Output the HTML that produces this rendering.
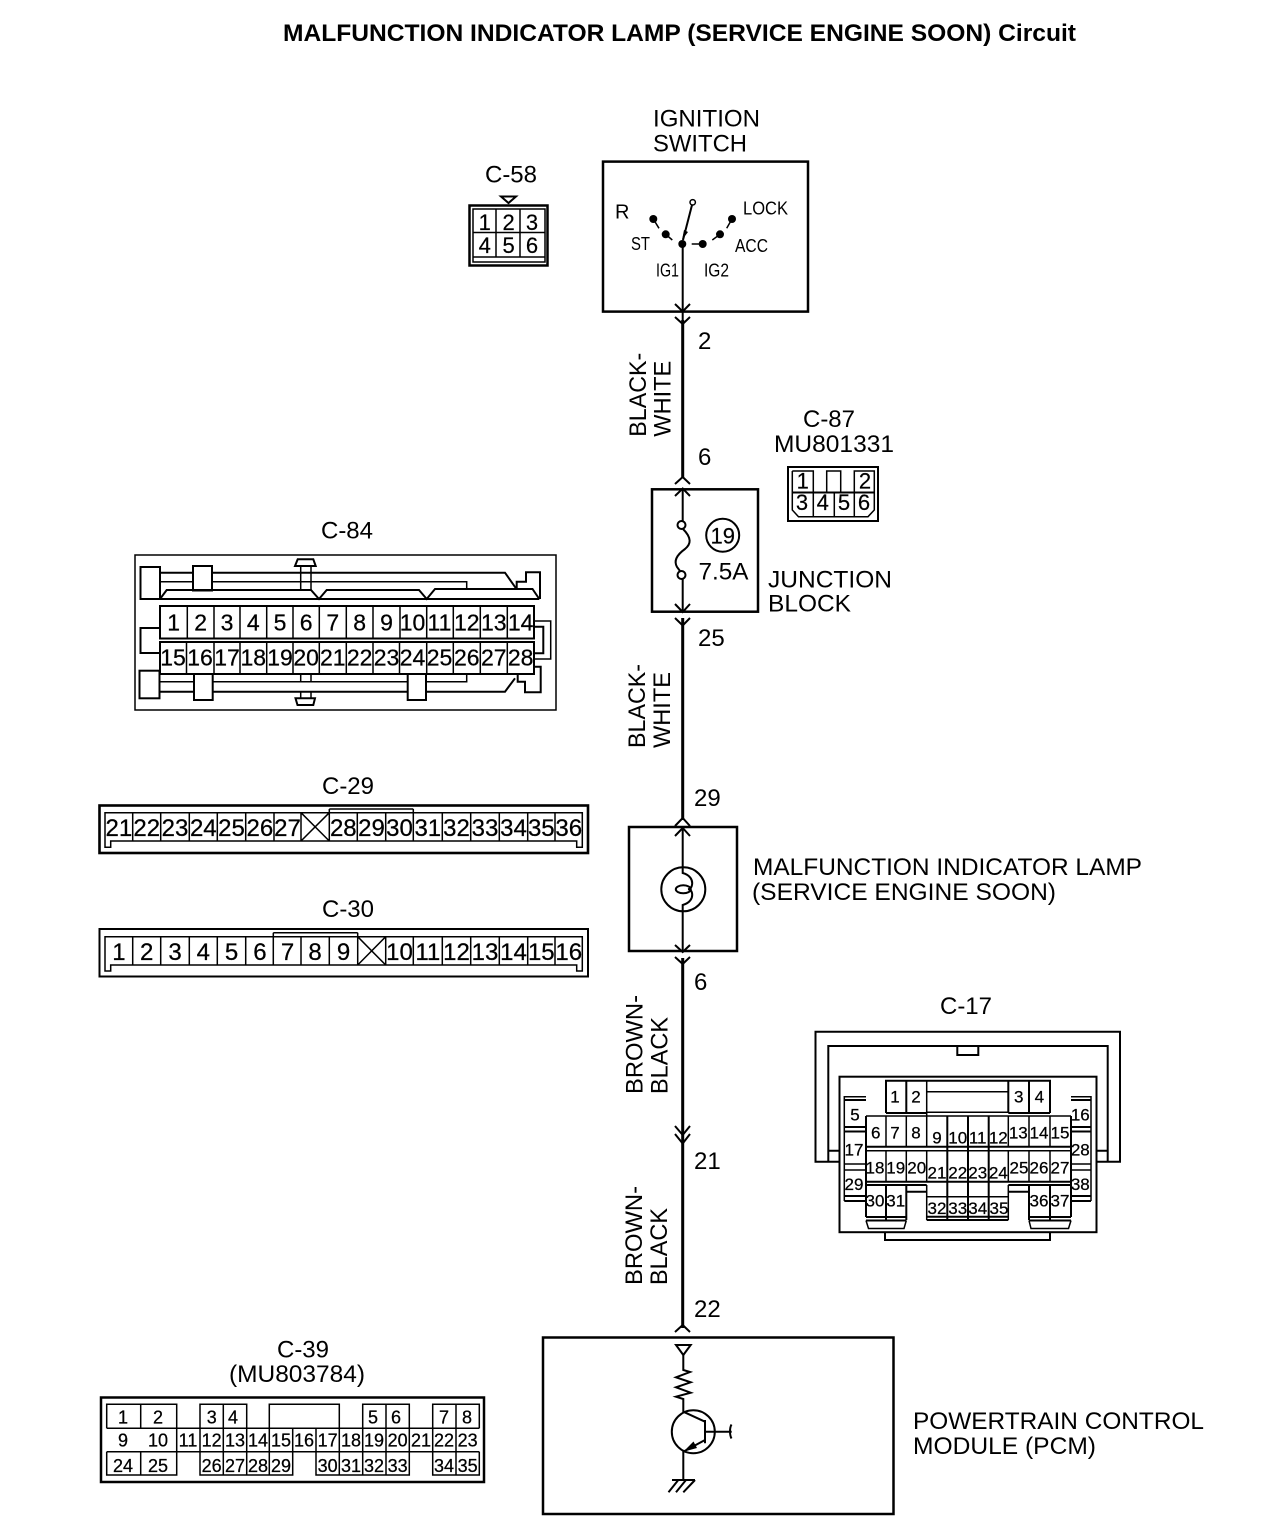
<!DOCTYPE html>
<html><head><meta charset="utf-8"><style>
html,body{margin:0;padding:0;background:#fff}
svg{display:block}
text{font-family:"Liberation Sans",sans-serif;fill:#000}
.t{font-size:24px}.m{text-anchor:middle}
.c29{font-size:24px;text-anchor:middle;stroke:#000;stroke-width:.25}
.c84{font-size:23px;text-anchor:middle;stroke:#000;stroke-width:.25}
.c58{font-size:22px;text-anchor:middle;stroke:#000;stroke-width:.2}
.c17{font-size:17px;text-anchor:middle;stroke:#000;stroke-width:.25}
.c39{font-size:18px;text-anchor:middle;stroke:#000;stroke-width:.25}
.s{font-size:18px}
.l{fill:none;stroke:#000;stroke-width:1.5}
.b{fill:none;stroke:#000;stroke-width:2.5}
.w{fill:none;stroke:#000;stroke-width:2}
.h{fill:none;stroke:#000;stroke-width:3}
</style></head><body>
<svg xmlns="http://www.w3.org/2000/svg" width="1264" height="1534" viewBox="0 0 1264 1534">
<rect width="1264" height="1534" fill="#fff"/>
<text x="283" y="41" font-size="24" font-weight="bold" textLength="793" lengthAdjust="spacingAndGlyphs">MALFUNCTION INDICATOR LAMP (SERVICE ENGINE SOON) Circuit</text>

<!-- main wire -->
<path class="w" d="M682.7 244V320M682.7 489V525M682.7 578V612M682.7 827V867M682.7 911V952"/>
<path class="h" d="M682.7 320V478M682.7 618V820M682.7 958V1328"/>
<path class="w" d="M675 304L682.7 311.5L690 304M675 317L682.7 324L690 317M675 484L682.7 477L690 484M675 496L682.7 488.5L690 496M675 604L682.7 612L690 604M675 618L682.7 625.5L690 618M675 826L682.7 818L690 826M675 836L682.7 828L690 836M675 945L682.7 952L690 945M675 957L682.7 964L690 957M675 1126L682.7 1135L690 1126M675 1134L682.7 1143.5L690 1134M675 1332L682.7 1325L690 1332"/>

<!-- ignition switch -->
<text x="653" y="126.7" class="t" textLength="107" lengthAdjust="spacingAndGlyphs">IGNITION</text>
<text x="653" y="151.7" class="t" textLength="94" lengthAdjust="spacingAndGlyphs">SWITCH</text>
<rect x="603" y="161.6" width="205" height="150" class="b"/>
<circle cx="653.3" cy="219" r="4"/><circle cx="665.7" cy="234.3" r="4"/><circle cx="682.3" cy="244" r="4"/><circle cx="702.7" cy="244" r="4"/><circle cx="720" cy="234.3" r="4"/><circle cx="732" cy="219" r="4"/>
<path class="l" d="M653.3 219L659 228.3M665.7 234.3L672.3 240M691.7 244H702.7M720 234.3L712.3 240M732 219L726.7 228.3"/>
<circle cx="692.7" cy="202.3" r="2.7" class="l" fill="#fff"/>
<path class="w" d="M692 205L683 240"/>
<path d="M682 240L684 230L688 232Z"/>
<text x="615" y="218.3" font-size="20">R</text>
<text x="743" y="214.5" class="s" textLength="45" lengthAdjust="spacingAndGlyphs">LOCK</text>
<text x="631" y="250" class="s" textLength="19" lengthAdjust="spacingAndGlyphs">ST</text>
<text x="735" y="252" class="s" textLength="33" lengthAdjust="spacingAndGlyphs">ACC</text>
<text x="656" y="276.5" class="s" textLength="23" lengthAdjust="spacingAndGlyphs">IG1</text>
<text x="704" y="276.5" class="s" textLength="25" lengthAdjust="spacingAndGlyphs">IG2</text>

<!-- wire labels -->
<text x="698" y="349" class="t">2</text>
<text x="698" y="465" class="t">6</text>
<text x="698" y="646" class="t">25</text>
<text x="694" y="806" class="t">29</text>
<text x="694" y="990" class="t">6</text>
<text x="694" y="1169" class="t">21</text>
<text x="694" y="1317" class="t">22</text>
<text transform="translate(646,436.7) rotate(-90)" class="t" textLength="84" lengthAdjust="spacingAndGlyphs">BLACK-</text>
<text transform="translate(670.7,436.7) rotate(-90)" class="t" textLength="76" lengthAdjust="spacingAndGlyphs">WHITE</text>
<text transform="translate(645,748) rotate(-90)" class="t" textLength="84" lengthAdjust="spacingAndGlyphs">BLACK-</text>
<text transform="translate(670,748) rotate(-90)" class="t" textLength="76" lengthAdjust="spacingAndGlyphs">WHITE</text>
<text transform="translate(642.3,1094) rotate(-90)" class="t" textLength="99" lengthAdjust="spacingAndGlyphs">BROWN-</text>
<text transform="translate(667.3,1094) rotate(-90)" class="t" textLength="77" lengthAdjust="spacingAndGlyphs">BLACK</text>
<text transform="translate(642,1285) rotate(-90)" class="t" textLength="99" lengthAdjust="spacingAndGlyphs">BROWN-</text>
<text transform="translate(667,1285) rotate(-90)" class="t" textLength="77" lengthAdjust="spacingAndGlyphs">BLACK</text>

<!-- C-58 -->
<text x="511" y="182.5" class="t m">C-58</text>
<path class="w" d="M501 196.5H516L508.5 203Z"/>
<rect x="469.5" y="205.5" width="78" height="60" class="b"/>
<rect x="473" y="209" width="72" height="53" class="l"/>
<path class="l" d="M473 232.5H545M473 257H545M496 209V257M520 209V257"/>
<text x="484.7" y="230" class="c58">1</text><text x="508.6" y="230" class="c58">2</text><text x="532" y="230" class="c58">3</text>
<text x="484.7" y="253" class="c58">4</text><text x="508.6" y="253" class="c58">5</text><text x="532" y="253" class="c58">6</text>

<!-- Junction block -->
<rect x="652" y="489.3" width="106" height="122.4" class="b"/>
<circle cx="681.5" cy="525" r="4" fill="#fff" stroke="#000" stroke-width="2"/>
<circle cx="681.5" cy="575" r="4" fill="#fff" stroke="#000" stroke-width="2"/>
<path class="w" d="M683 529C692 538 691 544 685 549C678 554 673 560 677 567L680 571"/>
<circle cx="722.7" cy="535.3" r="16.5" class="w"/>
<text x="722.7" y="543.5" class="c58">19</text>
<text x="698.5" y="579.3" class="t" textLength="50" lengthAdjust="spacingAndGlyphs">7.5A</text>
<text x="768" y="587.3" class="t" textLength="124" lengthAdjust="spacingAndGlyphs">JUNCTION</text>
<text x="768" y="611.7" class="t" textLength="83" lengthAdjust="spacingAndGlyphs">BLOCK</text>

<!-- C-87 -->
<text x="829" y="427" class="t m">C-87</text>
<text x="774" y="452" class="t" textLength="120" lengthAdjust="spacingAndGlyphs">MU801331</text>
<rect x="788" y="467" width="90" height="54" class="w"/>
<path class="l" d="M792.3 471H813.3V492.3M826.7 492.3V471H840.7V492.3M854.3 492.3V471H874.3V510L868 516.7H798.5L792.3 510V471M813.3 492.3V516.7M834.3 492.3V516.7M854.3 492.3V516.7"/>
<path class="w" d="M792.3 492.5H874.3"/>
<text x="802.7" y="488.3" class="c58">1</text><text x="865" y="488.3" class="c58">2</text>
<text x="802" y="510" class="c58">3</text><text x="822.7" y="510" class="c58">4</text><text x="844" y="510" class="c58">5</text><text x="864" y="510" class="c58">6</text>

<!-- C-84 -->
<text x="347" y="538.3" class="t m">C-84</text>
<rect x="135" y="555" width="421" height="155" class="l"/>
<rect x="140.5" y="567" width="19.5" height="32" class="w"/>
<rect x="193" y="566" width="19" height="24.5" class="w" fill="#fff"/>
<path class="w" d="M160 572.7H193M212 572.7H505L516.7 589.3M140.5 599H539.3"/>
<path class="l" d="M160 581.7H193M212 581.7H466.7V589"/>
<path class="w" d="M160 599L166.7 590H311L319 599L326.7 590H419L426.7 599L435 589H532.5L539.3 599"/>
<path class="w" d="M516.7 589.3V581.7H526V572.3H540V599"/>
<path class="w" d="M295 566L297.7 559.3H313.3L315.7 566Z"/>
<path class="l" d="M300.7 566V590M311 566V590"/>
<rect x="160" y="606" width="374" height="32.5" class="w"/>
<rect x="160" y="642" width="374" height="32" class="w"/>
<path class="l" d="M187.3 606V638M214 606V638M240 606V638M266.7 606V638M293 606V638M319.3 606V638M346.3 606V638M373 606V638M400 606V638M426.7 606V638M453.3 606V638M480.3 606V638M507.3 606V638"/>
<path class="l" d="M186.5 642V674M214 642V674M240 642V674M266.7 642V674M293 642V674M319.3 642V674M346.3 642V674M373 642V674M399.5 642V674M426.7 642V674M453.3 642V674M480.3 642V674M507.3 642V674"/>
<path class="w" d="M160 628H140.5V653H160"/>
<path class="l" d="M534 621H550.7V659H534"/>
<path class="w" d="M534 626.7H543.3V653.3H534"/>
<rect x="139.5" y="670.7" width="20" height="27.6" class="w" fill="#fff"/>
<rect x="194" y="674" width="18.7" height="26" class="w" fill="#fff"/>
<rect x="407.7" y="674" width="18.3" height="26" class="w" fill="#fff"/>
<path class="l" d="M159.5 681.7H194M212.7 681.7H407.7M426 681.7H466.7V674"/>
<path class="w" d="M159.5 691.7H194M212.7 691.7H407.7M426 691.7H505L515 678.3"/>
<path class="w" d="M517.7 674V681.7H525V692.3H540.7V666.7H534"/>
<path class="l" d="M300.7 674V681.7M311 674V681.7M300.7 691.7V698M311 691.7V698"/>
<path class="w" d="M295.5 698.3H315L313.3 705H297.5Z"/>
<text x="173.7" y="630.7" class="c84">1</text><text x="200.7" y="630.7" class="c84">2</text><text x="227" y="630.7" class="c84">3</text><text x="253.3" y="630.7" class="c84">4</text><text x="280" y="630.7" class="c84">5</text><text x="306.2" y="630.7" class="c84">6</text><text x="332.8" y="630.7" class="c84">7</text><text x="359.7" y="630.7" class="c84">8</text><text x="386.5" y="630.7" class="c84">9</text><text x="412.5" y="630.7" class="c84">10</text><text x="439.5" y="630.7" class="c84">11</text><text x="466.8" y="630.7" class="c84">12</text><text x="493.8" y="630.7" class="c84">13</text><text x="520.7" y="630.7" class="c84">14</text>
<text x="173" y="665.7" class="c84">15</text><text x="200" y="665.7" class="c84">16</text><text x="227" y="665.7" class="c84">17</text><text x="253.3" y="665.7" class="c84">18</text><text x="280" y="665.7" class="c84">19</text><text x="306.2" y="665.7" class="c84">20</text><text x="332.8" y="665.7" class="c84">21</text><text x="359.7" y="665.7" class="c84">22</text><text x="386.5" y="665.7" class="c84">23</text><text x="412.5" y="665.7" class="c84">24</text><text x="439.5" y="665.7" class="c84">25</text><text x="466.8" y="665.7" class="c84">26</text><text x="493.8" y="665.7" class="c84">27</text><text x="520.7" y="665.7" class="c84">28</text>

<!-- C-29 -->
<text x="348" y="794" class="t m">C-29</text>
<rect x="99.5" y="805.5" width="488.5" height="47.5" fill="none" stroke="#000" stroke-width="2.6"/>
<path class="l" d="M105 812.7H582.3V847.3H576.7V841H110.7V847.3H105Z"/>
<path class="l" d="M132.7 812.7V841M160.7 812.7V841M189.3 812.7V841M217.3 812.7V841M245.7 812.7V841M274 812.7V841M301 812.7V841M329.3 809V841M357.3 812.7V841M385.7 812.7V841M413.3 809V841M442.3 812.7V841M470.7 812.7V841M499.3 812.7V841M527.7 812.7V841M555 812.7V841M329.3 809H413.3M301 812.7L329.3 841M301 841L329.3 812.7"/>
<text x="118.9" y="836" class="c29">21</text><text x="146.7" y="836" class="c29">22</text><text x="175" y="836" class="c29">23</text><text x="203.3" y="836" class="c29">24</text><text x="231.5" y="836" class="c29">25</text><text x="259.9" y="836" class="c29">26</text><text x="287.5" y="836" class="c29">27</text><text x="343.3" y="836" class="c29">28</text><text x="371.5" y="836" class="c29">29</text><text x="399.5" y="836" class="c29">30</text><text x="427.8" y="836" class="c29">31</text><text x="456.5" y="836" class="c29">32</text><text x="485" y="836" class="c29">33</text><text x="513.5" y="836" class="c29">34</text><text x="541.3" y="836" class="c29">35</text><text x="568.7" y="836" class="c29">36</text>

<!-- C-30 -->
<text x="348" y="917" class="t m">C-30</text>
<rect x="99.5" y="929" width="488.5" height="47.5" class="w"/>
<path class="l" d="M105 936.7H582.3V971H576.7V965H110.7V971H105Z"/>
<path class="l" d="M132.7 936.7V965M160.7 936.7V965M189.3 936.7V965M217.3 936.7V965M245.7 936.7V965M273.3 932.7V965M301 936.7V965M329.3 936.7V965M357.7 932.7V965M385.7 936.7V965M413.3 936.7V965M442.3 936.7V965M470.7 936.7V965M499.3 936.7V965M527.7 936.7V965M555 936.7V965M273.3 932.7H357.7M357.7 936.7L385.7 965M357.7 965L385.7 936.7"/>
<text x="118.9" y="960" class="c29">1</text><text x="146.7" y="960" class="c29">2</text><text x="175" y="960" class="c29">3</text><text x="203.3" y="960" class="c29">4</text><text x="231.5" y="960" class="c29">5</text><text x="259.9" y="960" class="c29">6</text><text x="287.5" y="960" class="c29">7</text><text x="315" y="960" class="c29">8</text><text x="343.5" y="960" class="c29">9</text><text x="399.5" y="960" class="c29">10</text><text x="427.8" y="960" class="c29">11</text><text x="456.5" y="960" class="c29">12</text><text x="485" y="960" class="c29">13</text><text x="513.5" y="960" class="c29">14</text><text x="541.3" y="960" class="c29">15</text><text x="568.7" y="960" class="c29">16</text>

<!-- Lamp -->
<rect x="629" y="827" width="108" height="124" class="b"/>
<circle cx="683.3" cy="889.3" r="22" class="w"/>
<ellipse cx="683.3" cy="889.3" rx="7.5" ry="4" class="w"/>
<path class="w" d="M682.7 867V873C690 875 693 880 692 885C691.500 888 690 889 688 889.300M682.7 911V905C690 903 693 898 692 893C691.500 890.500 690 889.500 688 889.300"/>
<text x="753" y="875" class="t" textLength="389" lengthAdjust="spacingAndGlyphs">MALFUNCTION INDICATOR LAMP</text>
<text x="752" y="900" class="t" textLength="304" lengthAdjust="spacingAndGlyphs">(SERVICE ENGINE SOON)</text>

<!-- C-17 -->
<text x="966" y="1014" class="t m">C-17</text>
<path class="w" d="M839.3 1161.700H815.500V1031.700H1120V1161.700H1096.700M828.300 1161.700V1046H1107.700V1161.700M828.300 1150.700H839.300M1096.700 1150.700H1107.700M957.300 1046V1055H978.300V1046"/>
<rect x="839.500" y="1076.700" width="257" height="155.500" class="w" fill="#fff"/>
<path class="w" d="M885 1232.500V1240H1050V1232.500"/>
<path class="w" d="M886 1113V1080.700H1050V1113M906.300 1080.700V1113M1008.300 1080.700V1113M1029 1080.700V1113"/>
<path class="l" d="M926.700 1080.700V1116M926.700 1091.700H1008.300M926.700 1112.300H1008.300"/>
<path class="w" d="M886 1113H926.700M1008.300 1113H1050"/>
<path class="l" d="M866 1116H1071M886 1116V1146.700M906.300 1116V1146.700M926.700 1116V1146.700M1008.300 1116V1146.700M1029 1116V1146.700M1050 1116V1146.700"/>
<path class="w" d="M947.300 1116V1220M968 1116V1220M988.700 1116V1220"/>
<path class="w" d="M866 1146.700H1071M866 1181.700H1071M866 1185H926.700M1008.300 1185H1071M906.300 1191.700H926.700M1008.300 1191.700H1029"/>
<path class="l" d="M866 1150.700H1071M886 1150.700V1181.700M906.300 1150.700V1181.700M926.700 1150.700V1181.700M1008.300 1150.700V1181.700M1029 1150.700V1181.700M1050 1150.700V1181.700M926.700 1196.700H1008.300"/>
<path class="w" d="M866 1116V1217M886 1185V1220M906.300 1185V1220M1029 1185V1220M1050 1185V1220M1071 1116V1217"/>
<path class="l" d="M926.700 1185V1220M1008.300 1185V1220"/>
<path class="w" d="M926.700 1216.700H1008.300M926.700 1220H1008.300M866 1217H906.300M1029 1217H1071M866 1220.500H906.300M1029 1220.500H1071"/>
<path class="l" d="M866 1220.500L868.500 1228.500H904L906.300 1220.500M1029 1220.500L1031 1228.500H1068.500L1071 1220.500"/>
<path class="l" d="M844.300 1201V1096.700H866M1091 1201V1096.700H1071"/>
<path class="w" d="M844.300 1100H866M1071 1100H1091M844.300 1127H866M844.300 1131.500H866M1071 1127H1091M1071 1131.500H1091M844.300 1201H866M1071 1201H1091M844.300 1196H866M1071 1196H1091"/>
<path class="l" d="M844.300 1164H866M844.300 1170H866M1071 1164H1091M1071 1170H1091"/>
<text x="895" y="1102.700" class="c17">1</text><text x="916" y="1102.700" class="c17">2</text><text x="1018.700" y="1102.700" class="c17">3</text><text x="1039.300" y="1102.700" class="c17">4</text>
<text x="855" y="1120.700" class="c17">5</text><text x="1080.300" y="1120.700" class="c17">16</text>
<text x="875.700" y="1138.300" class="c17">6</text><text x="895" y="1138.300" class="c17">7</text><text x="916" y="1138.300" class="c17">8</text><text x="1018.300" y="1138.300" class="c17">13</text><text x="1039" y="1138.300" class="c17">14</text><text x="1060" y="1138.300" class="c17">15</text>
<text x="937" y="1143.300" class="c17">9</text><text x="957.700" y="1143.300" class="c17">10</text><text x="977.700" y="1143.300" class="c17">11</text><text x="998.300" y="1143.300" class="c17">12</text>
<text x="854" y="1155.700" class="c17">17</text><text x="1080.300" y="1155.700" class="c17">28</text>
<text x="875" y="1173.300" class="c17">18</text><text x="895.700" y="1173.300" class="c17">19</text><text x="916.700" y="1173.300" class="c17">20</text><text x="1019" y="1173.300" class="c17">25</text><text x="1039" y="1173.300" class="c17">26</text><text x="1060" y="1173.300" class="c17">27</text>
<text x="937" y="1178.300" class="c17">21</text><text x="957.700" y="1178.300" class="c17">22</text><text x="977.700" y="1178.300" class="c17">23</text><text x="998.300" y="1178.300" class="c17">24</text>
<text x="854" y="1190" class="c17">29</text><text x="1080.300" y="1190" class="c17">38</text>
<text x="875" y="1206.700" class="c17">30</text><text x="895.700" y="1206.700" class="c17">31</text><text x="1039" y="1206.700" class="c17">36</text><text x="1060" y="1206.700" class="c17">37</text>
<text x="937" y="1214" class="c17">32</text><text x="957.700" y="1214" class="c17">33</text><text x="977.700" y="1214" class="c17">34</text><text x="999" y="1214" class="c17">35</text>

<!-- C-39 -->
<text x="303" y="1357.700" class="t m">C-39</text>
<text x="229" y="1382" class="t" textLength="136" lengthAdjust="spacingAndGlyphs">(MU803784)</text>
<rect x="101" y="1397.500" width="383" height="84.500" class="b"/>
<path class="l" d="M106.700 1428.300V1404.300H176.700V1428.300M140.700 1404.300V1428.300M200 1428.300V1404.300H246.700V1428.300M223.300 1404.300V1428.300M269.300 1428.300V1404.300H339.300V1428.300M362.700 1428.300V1404.300H409.300V1428.300M386 1404.300V1428.300M432.700 1428.300V1404.300H479.300V1428.300M456 1404.300V1428.300"/>
<path class="l" d="M106.700 1428.300H479.300M106.700 1451.700H479.300M176.700 1428.300V1451.700M200 1428.300V1451.700M223.300 1428.300V1451.700M246.700 1428.300V1451.700M269.300 1428.300V1451.700M292.700 1428.300V1451.700M316 1428.300V1451.700M339.300 1428.300V1451.700M362.700 1428.300V1451.700M386 1428.300V1451.700M409.300 1428.300V1451.700M432.700 1428.300V1451.700M456 1428.300V1451.700"/>
<path class="l" d="M106.700 1451.700V1475H176.700V1451.700M140.700 1451.700V1475M200 1451.700V1475H292.700V1451.700M223.300 1451.700V1475M246.700 1451.700V1475M269.300 1451.700V1475M316 1451.700V1475H409.300V1451.700M339.300 1451.700V1475M362.700 1451.700V1475M386 1451.700V1475M432.700 1451.700V1475H479.300V1451.700M456 1451.700V1475"/>
<text x="123" y="1423.300" class="c39">1</text><text x="158" y="1423.300" class="c39">2</text><text x="211.700" y="1423.300" class="c39">3</text><text x="233" y="1423.300" class="c39">4</text><text x="373" y="1423.300" class="c39">5</text><text x="396" y="1423.300" class="c39">6</text><text x="444" y="1423.300" class="c39">7</text><text x="467" y="1423.300" class="c39">8</text>
<text x="123" y="1446.700" class="c39">9</text><text x="158" y="1446.700" class="c39">10</text><text x="188" y="1446.700" class="c39">11</text><text x="211.700" y="1446.700" class="c39">12</text><text x="235" y="1446.700" class="c39">13</text><text x="258" y="1446.700" class="c39">14</text><text x="281" y="1446.700" class="c39">15</text><text x="304" y="1446.700" class="c39">16</text><text x="327.700" y="1446.700" class="c39">17</text><text x="351" y="1446.700" class="c39">18</text><text x="374" y="1446.700" class="c39">19</text><text x="397.700" y="1446.700" class="c39">20</text><text x="421" y="1446.700" class="c39">21</text><text x="444" y="1446.700" class="c39">22</text><text x="467.700" y="1446.700" class="c39">23</text>
<text x="123" y="1472" class="c39">24</text><text x="158" y="1472" class="c39">25</text><text x="211.700" y="1472" class="c39">26</text><text x="235" y="1472" class="c39">27</text><text x="258" y="1472" class="c39">28</text><text x="281" y="1472" class="c39">29</text><text x="327.700" y="1472" class="c39">30</text><text x="351" y="1472" class="c39">31</text><text x="374" y="1472" class="c39">32</text><text x="397.700" y="1472" class="c39">33</text><text x="444" y="1472" class="c39">34</text><text x="467.700" y="1472" class="c39">35</text>

<!-- PCM -->
<rect x="543" y="1337.500" width="350.500" height="176.500" class="b"/>
<path class="w" d="M676 1345H690.700L683.300 1355Z"/>
<path class="w" d="M683.300 1355V1370L690 1372L676 1377.300L690.700 1382.300L676 1387.300L690.700 1392.700L676 1396.700L683.300 1399V1411.700L705 1421.700M705 1420V1443.300M705 1431.700H731.700M731.500 1424.500C729.500 1428 729.500 1435 731.500 1438.500M705 1440L683.300 1451.700V1480M672 1480H695M678.300 1480L668.500 1492.300M686 1480L676 1492.300M695 1480L683.300 1492.300"/>
<path d="M683.300 1451.700L693.500 1441.500L697 1448Z"/>
<circle cx="693.300" cy="1431.700" r="21.500" class="w"/>
<text x="913" y="1429" class="t" textLength="291" lengthAdjust="spacingAndGlyphs">POWERTRAIN CONTROL</text>
<text x="913" y="1454" class="t" textLength="183" lengthAdjust="spacingAndGlyphs">MODULE (PCM)</text>
</svg>
</body></html>
